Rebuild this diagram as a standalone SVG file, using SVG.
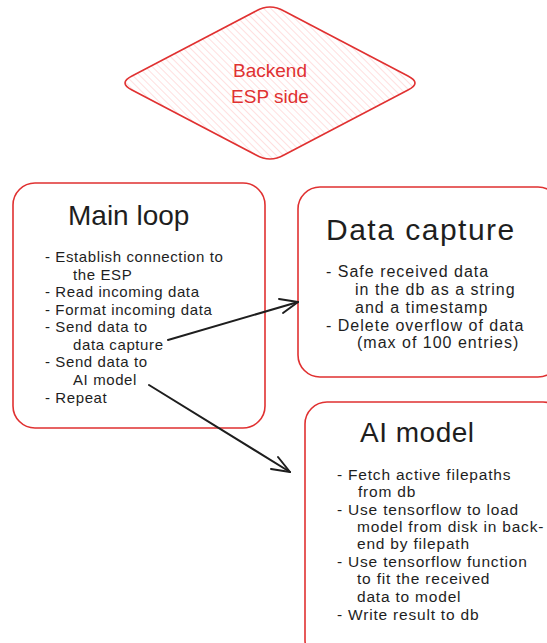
<svg xmlns="http://www.w3.org/2000/svg" width="547" height="643" viewBox="0 0 547 643">
<style>
.box{fill:#ffffff;stroke:#e03131;stroke-width:1.6}
.title{font-family:"Liberation Sans",Arial,sans-serif;font-size:28px;fill:#1e1e1e}
.item{font-family:"Liberation Sans",Arial,sans-serif;font-size:15px;letter-spacing:0.6px;fill:#1e1e1e}
.item2{font-family:"Liberation Sans",Arial,sans-serif;font-size:16px;letter-spacing:1px;fill:#1e1e1e}
.item3{font-family:"Liberation Sans",Arial,sans-serif;font-size:15.5px;letter-spacing:0.8px;fill:#1e1e1e}
.dtext{font-family:"Liberation Sans",Arial,sans-serif;font-size:19px;fill:#e03131;text-anchor:middle}
.conn{fill:none;stroke:#1e1e1e;stroke-width:2;stroke-linecap:round;stroke-linejoin:round}
</style>
<defs>
<pattern id="hatch" width="5" height="5" patternUnits="userSpaceOnUse" patternTransform="rotate(-45)">
<line x1="0" y1="0" x2="0" y2="5" stroke="#ffc9c9" stroke-width="1.2"/>
</pattern>
</defs>
<rect width="547" height="643" fill="#ffffff"/>
<g id="diamond">
<path d="M256,11 Q270,3 284,11 L408,76 Q422,83 408,90 L284,155 Q270,163 256,155 L132,90 Q118,83 132,76 Z" fill="url(#hatch)" stroke="#e03131" stroke-width="1.6"/>
<text class="dtext" x="270" y="77">Backend</text>
<text class="dtext" x="270" y="103">ESP side</text>
</g>
<g id="main-loop">
<rect class="box" x="13" y="183" width="252" height="245" rx="22"/>
<text class="title" x="68" y="225">Main loop</text>
<text class="item" x="45" y="262">- Establish connection to</text>
<text class="item" x="73" y="280">the ESP</text>
<text class="item" x="45" y="297">- Read incoming data</text>
<text class="item" x="45" y="315">- Format incoming data</text>
<text class="item" x="45" y="332">- Send data to</text>
<text class="item" x="73" y="350">data capture</text>
<text class="item" x="45" y="367">- Send data to</text>
<text class="item" x="73" y="385">AI model</text>
<text class="item" x="45" y="403">- Repeat</text>
</g>
<g id="data-capture">
<rect class="box" x="298" y="187" width="262" height="190" rx="22"/>
<text class="title" x="326" y="240" style="font-size:30px;letter-spacing:1.5px">Data capture</text>
<text class="item2" x="326" y="277">- Safe received data</text>
<text class="item2" x="355" y="295">in the db as a string</text>
<text class="item2" x="355" y="313">and a timestamp</text>
<text class="item2" x="326" y="331">- Delete overflow of data</text>
<text class="item2" x="357" y="348">(max of 100 entries)</text>
</g>
<g id="ai-model">
<rect class="box" x="305" y="402" width="260" height="260" rx="22"/>
<text class="title" x="360" y="442" style="letter-spacing:0.5px">AI model</text>
<text class="item3" x="337" y="480">- Fetch active filepaths</text>
<text class="item3" x="358" y="497">from db</text>
<text class="item3" x="337" y="515">- Use tensorflow to load</text>
<text class="item3" x="357" y="532">model from disk in back-</text>
<text class="item3" x="357" y="549">end by filepath</text>
<text class="item3" x="337" y="567">- Use tensorflow function</text>
<text class="item3" x="357" y="584">to fit the received</text>
<text class="item3" x="357" y="602">data to model</text>
<text class="item3" x="337" y="620">- Write result to db</text>
</g>
<g id="connectors">
<path class="conn" d="M168,340 L298,302"/>
<path class="conn" d="M279,299 L298,302 L283,313"/>
<path class="conn" d="M149,385 L290,472"/>
<path class="conn" d="M271,469 L290,472 L278,457"/>
</g>
</svg>
